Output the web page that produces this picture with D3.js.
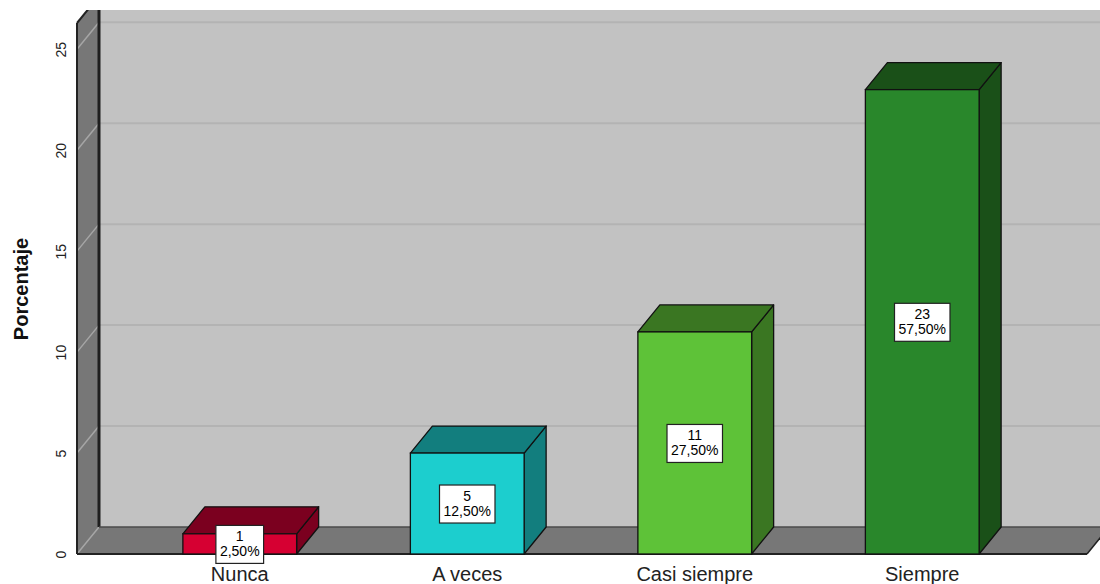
<!DOCTYPE html>
<html><head><meta charset="utf-8">
<script src="https://cdn.jsdelivr.net/npm/d3@7"></script>
<style>html,body{margin:0;padding:0;background:#fff;}svg{display:block;font-family:"Liberation Sans",Arial,sans-serif;}</style>
</head><body>
<svg id="c" width="1100" height="584"></svg>
<script>
const categories = ["Nunca", "A veces", "Casi siempre", "Siempre"];
const counts = [1, 5, 11, 23];
const percents = ["2,50%", "12,50%", "27,50%", "57,50%"];
const frontColors = ["#d60032", "#1ccece", "#5ec238", "#29872b"];
const sideColors = ["#7b001f", "#127e7e", "#3a7622", "#1a5018"];
const yTicks = [0, 5, 10, 15, 20, 25];
const yLabel = "Porcentaje";

const svg = d3.select("#c");
const DX = 22, DY = -27;
const x0 = 77, x1 = 1087, yBase = 554;
const y = d3.scaleLinear().domain([0, 26.3]).range([yBase, 23]);
const x = d3.scaleBand().domain(categories).range([126, 1036]).paddingInner(0.5).paddingOuter(0.25);

svg.append("defs").append("clipPath").attr("id", "clip")
  .append("rect").attr("x", 0).attr("y", 10).attr("width", 1100).attr("height", 574);

const g = svg.append("g").attr("clip-path", "url(#clip)");
const line = d3.line();

// back wall
g.append("rect").attr("x", x0 + DX).attr("y", 0).attr("width", 1100).attr("height", yBase + DY)
  .attr("fill", "#c2c2c2");
// back wall gridlines
g.selectAll(".bg").data(yTicks.filter(d => d > 0)).join("line")
  .attr("x1", x0 + DX).attr("x2", 1100)
  .attr("y1", d => y(d) + DY).attr("y2", d => y(d) + DY)
  .attr("stroke", "#b3b3b3").attr("stroke-width", 2);

// left wall
g.append("path").attr("d", line([[x0, yBase], [x0, y(26.3)], [x0 + DX, y(26.3) + DY], [x0 + DX, yBase + DY]]) + "Z")
  .attr("fill", "#777777");
// floor
g.append("path").attr("d", line([[x0, yBase], [x1, yBase], [x1 + DX, yBase + DY], [x0 + DX, yBase + DY]]) + "Z")
  .attr("fill", "#777777");
// left wall gridlines (diagonal)
g.selectAll(".lg").data(yTicks).join("line")
  .attr("x1", x0).attr("x2", x0 + DX)
  .attr("y1", d => y(d)).attr("y2", d => y(d) + DY)
  .attr("stroke", "#a6a6a6").attr("stroke-width", 1.5);
// edges
g.append("line").attr("x1", x0 + DX).attr("x2", x0 + DX).attr("y1", 0).attr("y2", yBase + DY)
  .attr("stroke", "#1e1e1e").attr("stroke-width", 3);
g.append("line").attr("x1", x0 + DX).attr("x2", 1100).attr("y1", yBase + DY).attr("y2", yBase + DY)
  .attr("stroke", "#4a4a4a").attr("stroke-width", 1.5);
g.append("line").attr("x1", x0).attr("x2", x0).attr("y1", y(26.3)).attr("y2", yBase)
  .attr("stroke", "#222").attr("stroke-width", 2);
g.append("line").attr("x1", x0).attr("x2", x0 + DX).attr("y1", y(26.3)).attr("y2", y(26.3) + DY)
  .attr("stroke", "#222").attr("stroke-width", 2);
g.append("line").attr("x1", x0).attr("x2", x1).attr("y1", yBase).attr("y2", yBase)
  .attr("stroke", "#222").attr("stroke-width", 2);
g.append("line").attr("x1", x1).attr("x2", x1 + DX).attr("y1", yBase).attr("y2", yBase + DY)
  .attr("stroke", "#222").attr("stroke-width", 1.5);

// bars
const bars = g.selectAll(".bar").data(categories.map((c, i) => ({c, v: counts[i], p: percents[i], i})))
  .join("g");
bars.each(function(d) {
  const b = d3.select(this);
  const bx0 = x(d.c), bx1 = x(d.c) + x.bandwidth(), ty = y(d.v);
  b.append("path").attr("d", line([[bx1, ty], [bx1 + DX, ty + DY], [bx1 + DX, yBase + DY], [bx1, yBase]]) + "Z")
    .attr("fill", sideColors[d.i]).attr("stroke", "#111").attr("stroke-width", 1.3).attr("stroke-linejoin", "round");
  b.append("path").attr("d", line([[bx0, ty], [bx1, ty], [bx1 + DX, ty + DY], [bx0 + DX, ty + DY]]) + "Z")
    .attr("fill", sideColors[d.i]).attr("stroke", "#111").attr("stroke-width", 1.3).attr("stroke-linejoin", "round");
  b.append("rect").attr("x", bx0).attr("y", ty).attr("width", bx1 - bx0).attr("height", yBase - ty)
    .attr("fill", frontColors[d.i]).attr("stroke", "#111").attr("stroke-width", 1.3);
});

// data labels
bars.each(function(d) {
  const b = d3.select(this);
  const cx = x(d.c) + x.bandwidth() / 2, cy = (y(d.v) + yBase) / 2 + 0.5;
  const lab = b.append("g");
  const t = lab.append("text").attr("text-anchor", "middle").attr("font-size", 14).attr("fill", "#000");
  t.append("tspan").attr("x", cx).attr("y", cy - 3).text(d.v);
  t.append("tspan").attr("x", cx).attr("y", cy + 12).text(d.p);
  const w = t.node().getBBox().width + 8;
  lab.insert("rect", "text").attr("x", cx - w / 2).attr("y", cy - 19).attr("width", w).attr("height", 38)
    .attr("fill", "#fff").attr("stroke", "#222").attr("stroke-width", 1.2);
});

// y axis tick labels
const ax = svg.append("g").attr("transform", `translate(61,0)`)
  .call(d3.axisLeft(y).tickValues(yTicks).tickSize(0).tickFormat(d3.format("d")));
ax.select(".domain").remove();
ax.selectAll("text").attr("transform", "rotate(-90)").attr("x", 0).attr("y", 0).attr("dy", "0.36em")
  .attr("text-anchor", "middle").attr("font-size", 14).attr("fill", "#222")
  .attr("font-family", "'Liberation Sans',Arial,sans-serif");

// y label
svg.append("text").attr("transform", "translate(28,289) rotate(-90)").attr("text-anchor", "middle")
  .attr("font-size", 20).attr("font-weight", "bold").attr("fill", "#111").text(yLabel);

// x labels
svg.append("g").selectAll("text").data(categories).join("text")
  .attr("x", d => x(d) + x.bandwidth() / 2).attr("y", 581)
  .attr("text-anchor", "middle").attr("font-size", 20).attr("fill", "#222").text(d => d);
</script>
</body></html>
